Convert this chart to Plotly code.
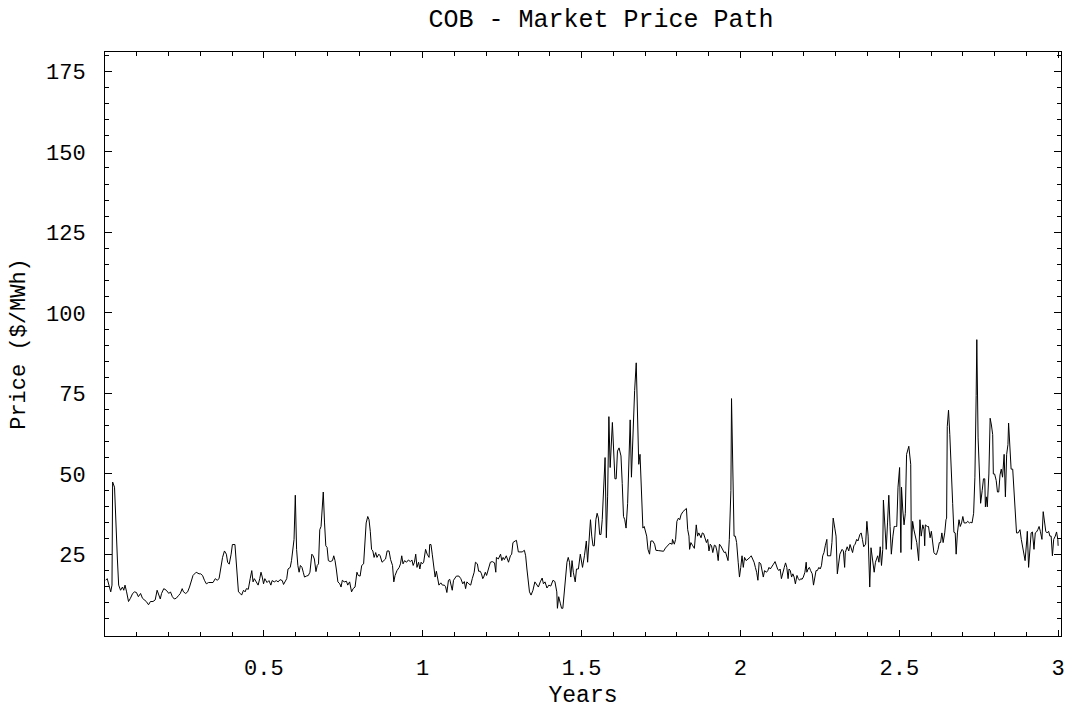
import plotly.graph_objects as go

# Time in years and price in $/MWh
years = [0.002, 0.007, 0.018, 0.022, 0.024, 0.030, 0.039, 0.043, 0.049, 0.055, 0.059, 0.063, 0.068, 0.074, 0.080,
         0.087, 0.093, 0.099, 0.105, 0.112, 0.118, 0.124, 0.130, 0.137, 0.143, 0.151, 0.158, 0.164, 0.168, 0.174,
         0.178, 0.185, 0.193, 0.201, 0.206, 0.212, 0.218, 0.224, 0.231, 0.237, 0.243, 0.247, 0.254, 0.260, 0.266,
         0.270, 0.277, 0.287, 0.296,
         0.301, 0.307, 0.313, 0.319, 0.326, 0.334, 0.340, 0.347, 0.353, 0.359, 0.363, 0.370, 0.376, 0.382, 0.386,
         0.391, 0.397, 0.401, 0.409, 0.413, 0.420, 0.426, 0.430, 0.436, 0.441, 0.445, 0.451, 0.457, 0.462, 0.466,
         0.470, 0.476, 0.482, 0.487, 0.491, 0.495, 0.499, 0.503, 0.510, 0.516, 0.522, 0.526, 0.533, 0.539, 0.545,
         0.551, 0.558, 0.562, 0.566, 0.572, 0.576, 0.583, 0.587,
         0.595, 0.599, 0.603, 0.607, 0.611, 0.615, 0.620, 0.624, 0.628, 0.634, 0.640, 0.645, 0.651, 0.655, 0.659,
         0.664, 0.668, 0.672, 0.676, 0.680, 0.687, 0.691, 0.695, 0.699, 0.703, 0.709, 0.716, 0.720, 0.724, 0.728,
         0.733, 0.739, 0.743, 0.747, 0.753, 0.760, 0.764, 0.770, 0.776, 0.781, 0.787, 0.793, 0.797, 0.803, 0.808,
         0.814, 0.818, 0.822, 0.827, 0.831, 0.835, 0.839, 0.843, 0.847, 0.852, 0.856, 0.862, 0.866, 0.872, 0.877,
         0.883,
         0.888, 0.894, 0.899, 0.905, 0.909, 0.913, 0.919, 0.926, 0.930, 0.934, 0.938, 0.943, 0.949, 0.955, 0.961,
         0.966, 0.970, 0.974, 0.978, 0.982, 0.987, 0.991, 0.995, 0.999, 1.003, 1.009, 1.014, 1.020, 1.022, 1.026,
         1.030, 1.034, 1.039, 1.043, 1.047, 1.051, 1.057, 1.062, 1.068, 1.072, 1.076, 1.081, 1.085, 1.089, 1.093,
         1.097, 1.101, 1.106, 1.114, 1.120, 1.126, 1.131, 1.135, 1.139, 1.145, 1.151, 1.156, 1.162, 1.166, 1.172,
         1.176, 1.181, 1.185, 1.189,
         1.192, 1.197, 1.201, 1.207, 1.213, 1.219, 1.226, 1.230, 1.232, 1.238, 1.245, 1.249, 1.253, 1.257, 1.263,
         1.270, 1.276, 1.280, 1.284, 1.291, 1.295, 1.301, 1.307, 1.313, 1.320, 1.324, 1.328, 1.332, 1.336, 1.341,
         1.347, 1.353, 1.360, 1.364, 1.370, 1.376, 1.380, 1.385, 1.391, 1.397, 1.403, 1.410, 1.416, 1.422, 1.424,
         1.428, 1.433, 1.437, 1.441, 1.445, 1.449, 1.454, 1.458, 1.462, 1.466, 1.470, 1.474,
         1.480, 1.484, 1.490, 1.496, 1.503, 1.509, 1.515, 1.519, 1.524, 1.528, 1.532, 1.536, 1.540, 1.545, 1.549,
         1.553, 1.557, 1.561, 1.565, 1.570, 1.574, 1.578, 1.582, 1.586, 1.590, 1.597, 1.601, 1.605, 1.609, 1.613,
         1.618, 1.624, 1.628, 1.632, 1.636, 1.640, 1.645, 1.649, 1.653, 1.657, 1.661, 1.667, 1.672, 1.676, 1.680,
         1.684, 1.689, 1.693, 1.697, 1.701, 1.705, 1.709, 1.714, 1.718, 1.724, 1.730, 1.734, 1.743, 1.751, 1.758,
         1.764, 1.770, 1.778, 1.785,
         1.786, 1.792, 1.796, 1.800, 1.805, 1.809, 1.813, 1.819, 1.825, 1.830, 1.834, 1.838, 1.840, 1.844, 1.850,
         1.855, 1.857, 1.861, 1.865, 1.869, 1.876, 1.880, 1.884, 1.888, 1.893, 1.897, 1.901, 1.905, 1.909, 1.913,
         1.918, 1.922, 1.926, 1.930, 1.934, 1.938, 1.945, 1.949, 1.953, 1.957, 1.961, 1.965, 1.970, 1.972, 1.976,
         1.980, 1.984, 1.988, 1.993, 1.997, 2.001, 2.005, 2.009, 2.013, 2.018, 2.022, 2.026, 2.030, 2.034, 2.039,
         2.043, 2.047, 2.051, 2.055, 2.059, 2.064, 2.068, 2.072, 2.076, 2.080,
         2.082, 2.086, 2.090, 2.094, 2.098, 2.104, 2.109, 2.113, 2.117, 2.121, 2.125, 2.129, 2.134, 2.138, 2.142,
         2.146, 2.150, 2.153, 2.157, 2.161, 2.165, 2.169, 2.173, 2.178, 2.182, 2.186, 2.190, 2.194, 2.198, 2.203,
         2.207, 2.209, 2.213, 2.217, 2.221, 2.226, 2.230, 2.234, 2.238, 2.242, 2.247, 2.251, 2.255, 2.259, 2.263,
         2.267, 2.272, 2.274, 2.278, 2.284, 2.288, 2.292, 2.297, 2.301, 2.305, 2.309, 2.313, 2.320, 2.324, 2.328,
         2.330, 2.336, 2.341, 2.345, 2.349, 2.353, 2.357, 2.361, 2.366, 2.370, 2.376, 2.380,
         2.384, 2.388, 2.394, 2.398, 2.402, 2.407, 2.411, 2.415, 2.421, 2.425, 2.432, 2.436, 2.440, 2.444, 2.448,
         2.450, 2.455, 2.459, 2.463, 2.467, 2.471, 2.475, 2.480, 2.484, 2.488, 2.492, 2.496, 2.501, 2.505, 2.507,
         2.511, 2.515, 2.519, 2.523, 2.530, 2.536, 2.538, 2.542, 2.546, 2.551, 2.555, 2.561, 2.565, 2.569, 2.574,
         2.578, 2.580, 2.582, 2.588, 2.592, 2.597, 2.601, 2.605, 2.609, 2.613, 2.617, 2.622, 2.626, 2.630, 2.634,
         2.638, 2.643, 2.647, 2.649, 2.651, 2.655, 2.659, 2.663, 2.668, 2.672, 2.676,
         2.679, 2.683, 2.688, 2.692, 2.696, 2.700, 2.704, 2.711, 2.715, 2.721, 2.725, 2.729, 2.734, 2.738, 2.742,
         2.744, 2.748, 2.752, 2.756, 2.761, 2.765, 2.769, 2.771, 2.774, 2.777, 2.782, 2.786, 2.790, 2.794, 2.796,
         2.800, 2.805, 2.809, 2.813, 2.817, 2.821, 2.825, 2.830, 2.834, 2.838, 2.842, 2.844, 2.848, 2.852, 2.857,
         2.861, 2.865, 2.869, 2.874, 2.880, 2.884, 2.888, 2.892, 2.896, 2.901, 2.903, 2.907, 2.911, 2.915, 2.919,
         2.924, 2.928, 2.932, 2.936, 2.940, 2.944, 2.949, 2.953, 2.957, 2.961, 2.965, 2.970, 2.974, 2.978, 2.982,
         2.986, 2.991, 2.995, 2.999, 3.000]

price = [17.0, 17.5, 13.4, 15.5, 47.5, 45.9, 23.6, 15.5, 13.9, 14.9, 13.9, 15.5, 13.4, 10.4, 11.4,
         12.9, 13.4, 13.2, 11.9, 12.9, 11.4, 10.9, 10.4, 9.4, 10.4, 10.4, 10.9, 13.9, 12.9, 11.2,
         12.9, 14.4, 13.9, 12.9, 13.4, 11.9, 11.2, 11.4, 12.2, 12.9, 14.4, 13.4, 12.9, 13.4, 14.9,
         16.5, 18.5, 19.5, 19.0,
         19.0, 18.5, 17.0, 15.9, 16.3, 16.3, 16.3, 17.5, 17.0, 17.5, 20.5, 24.1, 26.1, 25.1, 22.6,
         22.0, 25.1, 28.1, 28.1, 23.6, 13.4, 12.9, 12.4, 13.9, 13.4, 14.4, 14.2, 17.5, 20.0, 16.5,
         17.5, 16.5, 15.5, 17.5, 19.5, 18.0, 15.9, 17.5, 16.3, 16.9, 15.5, 16.9, 16.5, 16.9, 16.5,
         17.2, 16.9, 15.7, 16.5, 17.5, 20.5, 21.0, 23.1,
         29.7, 43.4, 26.6, 21.6, 19.5, 21.6, 21.0, 19.5, 18.0, 18.3, 18.5, 19.5, 25.1, 24.6, 23.6,
         19.7, 21.6, 22.1, 32.7, 33.7, 44.4, 34.8, 27.7, 27.2, 23.1, 22.8, 23.1, 24.6, 23.1, 20.5,
         16.5, 15.9, 14.9, 17.0, 16.5, 16.7, 15.5, 16.5, 13.4, 14.4, 14.9, 19.5, 18.5, 18.3, 21.6,
         22.1, 27.7, 34.8, 36.8, 35.8, 32.2, 26.6, 26.1, 24.1, 25.6, 24.1, 25.1, 24.6, 22.6, 23.1,
         23.6,
         26.1, 26.1, 23.4, 21.6, 16.5, 18.5, 20.0, 21.0, 22.1, 24.6, 22.1, 23.1, 22.6, 23.3, 22.8,
         23.3, 21.6, 22.6, 25.1, 21.0, 22.6, 20.5, 22.6, 22.1, 22.6, 26.6, 25.1, 24.1, 28.1, 28.1,
         25.1, 21.0, 18.0, 19.8, 18.0, 15.5, 16.2, 15.5, 15.5, 15.0, 13.2, 17.0, 17.3, 15.5, 13.9,
         17.0, 17.5, 18.3, 18.3, 17.5, 15.9, 16.6, 14.4, 16.5, 15.9, 15.5, 17.5, 19.5, 22.6, 22.1,
         19.8, 19.8, 19.0, 17.5,
         18.0, 19.5, 18.5, 20.5, 22.6, 22.8, 22.4, 19.5, 24.1, 23.6, 25.1, 23.1, 24.1, 23.4, 24.6,
         22.6, 24.6, 25.1, 28.7, 29.2, 29.4, 25.8, 25.8, 25.8, 26.3, 24.6, 20.5, 16.5, 13.4, 12.4,
         13.9, 16.5, 15.5, 14.9, 16.5, 17.7, 15.9, 16.5, 14.6, 15.5, 15.2, 17.0, 16.6, 13.4, 8.3,
         11.9, 9.9, 8.3, 8.3, 12.4, 15.5, 22.6, 24.1, 22.6, 18.0, 23.1, 19.5,
         16.5, 20.5, 20.5, 25.1, 21.0, 24.6, 29.2, 22.6, 29.7, 35.8, 30.7, 27.7, 27.7, 35.8, 37.8,
         36.3, 31.2, 31.2, 35.8, 48.0, 55.1, 30.2, 42.9, 67.8, 52.0, 66.0, 55.1, 48.5, 48.5, 57.1,
         58.1, 55.6, 47.0, 36.8, 35.8, 33.2, 40.9, 51.0, 66.8, 49.0, 62.2, 75.9, 84.5, 69.3, 53.0,
         56.1, 40.3, 33.2, 33.7, 32.2, 30.7, 26.6, 25.1, 29.2, 29.2, 28.2, 26.3, 26.2, 26.0, 26.0,
         27.0, 27.7, 28.5, 28.2,
         29.7, 28.2, 29.7, 35.3, 36.3, 35.8, 37.3, 38.3, 38.8, 39.3, 32.7, 30.7, 26.6, 28.7, 27.7,
         26.9, 29.2, 34.2, 30.7, 31.7, 30.2, 31.7, 31.5, 30.2, 28.7, 29.7, 26.1, 28.2, 27.7, 25.6,
         27.9, 27.7, 26.1, 23.1, 28.2, 27.7, 26.1, 25.6, 25.8, 24.1, 23.1, 29.7, 44.9, 73.4, 54.1,
         30.7, 30.7, 28.7, 22.6, 18.0, 21.0, 24.6, 21.0, 24.1, 23.1, 23.4, 23.8, 24.1, 24.6, 23.6,
         22.6, 21.0, 19.5, 17.0, 22.6, 22.1, 20.5, 18.0, 20.0, 19.5,
         19.5, 20.0, 21.0, 20.5, 21.0, 22.0, 22.8, 21.5, 20.5, 20.0, 20.5, 17.5, 20.0, 21.0, 22.4,
         21.0, 17.5, 20.5, 20.0, 18.0, 19.0, 18.0, 15.9, 18.5, 17.5, 17.0, 17.5, 17.3, 18.0, 19.5,
         22.6, 19.5, 20.5, 21.0, 20.0, 19.0, 15.5, 18.5, 20.0, 20.0, 21.0, 20.5, 21.5, 24.6, 25.6,
         27.7, 29.7, 24.6, 24.6, 24.6, 28.7, 36.3, 33.2, 30.7, 19.0, 23.1, 25.1, 26.6, 26.1, 21.0,
         25.6, 27.4, 26.1, 28.1, 26.6, 25.6, 27.7, 28.2, 29.7, 29.2, 31.2, 31.7,
         29.7, 27.4, 28.2, 35.3, 30.7, 14.9, 27.1, 24.6, 19.5, 22.6, 24.6, 22.6, 27.4, 21.6, 26.6,
         41.9, 32.7, 26.6, 34.8, 43.4, 33.7, 25.1, 30.7, 33.7, 33.7, 33.7, 45.9, 52.0, 25.6, 45.9,
         38.8, 34.2, 37.8, 56.1, 58.6, 53.0, 26.6, 35.3, 32.7, 29.7, 28.7, 23.1, 35.8, 30.7, 34.2,
         32.7, 27.7, 34.2, 33.7, 33.7, 30.2, 32.2, 27.7, 25.6, 25.1, 25.0, 26.6, 28.7, 28.7, 31.7,
         28.7, 31.7, 35.8, 36.3, 64.7, 69.8, 62.2, 50.0, 40.9, 31.9, 31.7,
         25.1, 31.7, 35.8, 33.7, 34.8, 36.8, 34.8, 34.8, 35.3, 34.8, 35.0, 34.8, 37.8, 49.0, 74.4,
         91.7, 61.2, 48.0, 40.9, 44.9, 48.5, 48.5, 39.8, 42.9, 39.8, 50.0, 67.3, 65.2, 62.2, 50.0,
         50.0, 48.0, 44.4, 44.4, 49.7, 51.5, 49.0, 56.1, 42.9, 56.1, 59.1, 65.8, 59.1, 51.5, 51.5,
         44.9, 39.8, 31.7, 31.7, 32.7, 29.7, 27.7, 25.6, 23.1, 29.2, 32.2, 21.0, 27.7, 31.7, 32.0,
         26.6, 31.7, 32.0, 32.7, 33.7, 32.2, 29.7, 38.3, 35.8, 32.2, 31.7, 32.2, 30.7, 30.7, 24.6,
         29.7, 30.7, 32.0, 29.7, 27.7]

x_tick_vals = [0.5, 1, 1.5, 2, 2.5, 3]
x_tick_text = ["0.5", "1", "1.5", "2", "2.5", "3"]
y_tick_vals = [25, 50, 75, 100, 125, 150, 175]
y_tick_text = ["25", "50", "75", "100", "125", "150", "175"]

FONT = "Liberation Mono, Courier New, monospace"

fig = go.Figure()
fig.add_trace(go.Scatter(x=years, y=price, mode="lines",
                         line=dict(color="black", width=1), hoverinfo="skip"))

axis_common = dict(showline=True, linecolor="black", linewidth=1, mirror="ticks",
                   ticks="inside", tickcolor="black", tickwidth=1,
                   showgrid=False, zeroline=False,
                   tickfont=dict(family=FONT, size=22, color="black"))

fig.update_xaxes(range=[0, 3.009], tickvals=x_tick_vals, ticktext=x_tick_text, ticklen=6,
                 minor=dict(ticks="inside", dtick=0.1, tick0=0, ticklen=4, tickcolor="black", showgrid=False),
                 title=dict(text="Years", font=dict(family=FONT, size=23, color="black"), standoff=4),
                 ticklabelstandoff=12, **axis_common)
fig.update_yaxes(range=[-0.3, 181], tickvals=y_tick_vals, ticktext=y_tick_text, ticklen=7,
                 minor=dict(ticks="inside", dtick=5, tick0=0, ticklen=4, tickcolor="black", showgrid=False),
                 title=dict(text="Price ($/MWh)", font=dict(family=FONT, size=22, color="black"), standoff=14),
                 ticklabelstandoff=14, **axis_common)

fig.update_layout(
    width=1077, height=715,
    margin=dict(l=105, r=12, t=52, b=70),
    paper_bgcolor="white", plot_bgcolor="white",
    showlegend=False,
    title=dict(text="COB - Market Price Path", x=601 / 1077, xanchor="center",
               y=1 - 18 / 715, yanchor="middle",
               font=dict(family=FONT, size=25, color="black")),
)

fig.write_html("out.html")
